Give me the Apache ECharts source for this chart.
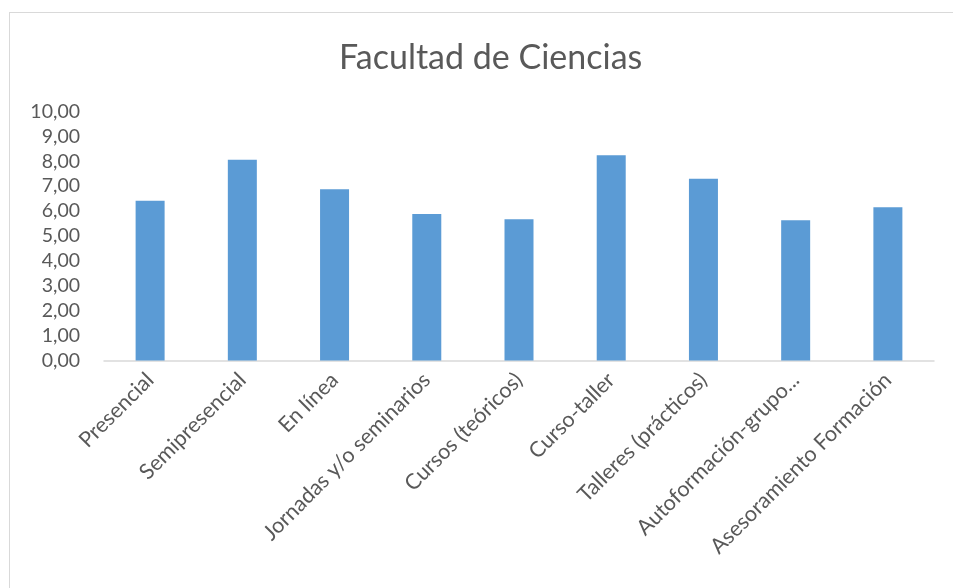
<!doctype html>
<html lang="es">
<head>
    <meta charset="UTF-8">
    <title>Facultad de Ciencias</title>
    <style>
        html, body{margin:0; padding:0; background:#fff;}
        #frame{position:absolute; left:9px; top:12px; width:960px; height:600px; border:1px solid #d9d9d9;}
        #chart{position:absolute; left:0; top:0; width:953px; height:588px;}
    </style>
</head>
<body>
<div id="frame"></div>
<div id="chart"></div>
<script src="https://cdn.jsdelivr.net/npm/echarts@6/dist/echarts.min.js"></script>
<script>
    var categorias = ['Presencial', 'Semipresencial', 'En línea', 'Jornadas y/o seminarios',
        'Cursos (teóricos)', 'Curso-taller', 'Talleres (prácticos)', 'Autoformación-grupo...',
        'Asesoramiento Formación'];
    var valores = [6.42, 8.06, 6.88, 5.88, 5.67, 8.24, 7.30, 5.63, 6.15];

    var chart = echarts.init(document.getElementById('chart'));
    chart.setOption({
        animation: false,
        title: {
            text: 'Facultad de Ciencias',
            left: 334,
            top: 36,
            textStyle: {color: '#595959', fontSize: 34, fontWeight: 'normal', fontFamily: 'Lato'}
        },
        grid: {left: 104, right: 19, top: 111.5, bottom: 227.5},
        xAxis: {
            type: 'category',
            data: categorias,
            axisLine: {lineStyle: {color: '#d9d9d9', width: 1.5}},
            axisTick: {show: false},
            axisLabel: {rotate: 45, color: '#595959', fontSize: 21.5, fontFamily: 'Lato', margin: 16, interval: 0}
        },
        yAxis: {
            type: 'value',
            min: 0,
            max: 10,
            interval: 1,
            splitLine: {show: false},
            axisLine: {show: false},
            axisTick: {show: false},
            axisLabel: {
                color: '#595959', fontSize: 19.5, fontFamily: 'Lato', margin: 24,
                formatter: function (v) { return v.toFixed(2).replace('.', ','); }
            }
        },
        series: [{
            type: 'bar',
            data: valores,
            barWidth: 29,
            itemStyle: {color: '#5b9bd5'}
        }]
    });
</script>
</body>
</html>
